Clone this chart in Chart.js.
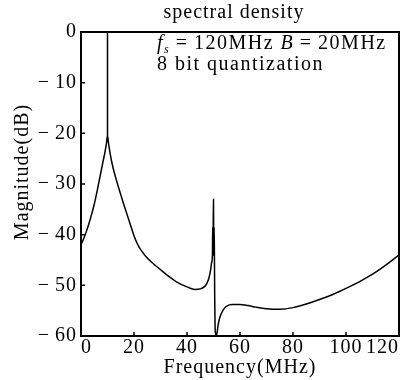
<!DOCTYPE html>
<html>
<head>
<meta charset="utf-8">
<script src="https://cdn.jsdelivr.net/npm/chart.js@4"></script>
<style>
  html, body { margin: 0; padding: 0; background: #fff; }
</style>
</head>
<body>
<canvas id="chart" width="409" height="380"></canvas>
<script>
// Values
const freqMHz = [
    0, 1, 2, 3, 4, 5, 6, 7, 8, 9, 9.6, 10,
    10, 10,
    10.4, 11, 12, 13, 14, 15, 16, 17, 18, 20, 21, 22, 23, 24, 25, 27, 30, 33, 36, 40, 43, 45,
    46.5, 47.5, 48.3, 48.9, 49.3, 49.6,
    49.7, 49.8, 49.9, 50, 50.05, 50.15, 50.25, 50.35,
    50.45, 50.6, 50.9, 51.3, 51.7, 52.3, 53, 54, 55, 57, 60, 63, 66, 70, 75,
    80, 85, 90, 95, 100, 105, 110, 115, 120
]
const magnitudeDb = [
    -42, -40.8, -39.4, -37.8, -36, -34, -31.6, -29, -26.4, -23.8, -22, -20.5,
    0, -20.5,
    -22, -24, -26.6, -28.6, -30.4, -32.1, -33.8, -35.4, -37, -40.2, -41.5, -42.5, -43.3, -44, -44.6, -45.6, -46.9, -48.2, -49.3, -50.3, -50.8, -50.7,
    -50.3, -49.6, -48.5, -47, -45.5, -44,
    -38.5, -44, -38, -33, -38, -44, -38.5, -44,
    -52, -58.5, -59.8, -59.5, -58, -56.5, -55.5, -54.6, -54.1, -53.8, -53.8, -54, -54.3, -54.6, -54.7,
    -54.4, -53.7, -52.8, -51.8, -50.6, -49.3, -47.8, -46, -44
]

// Axis ranges and tick steps
const xRange = [0, 120]
const xStep = 20
const yRange = [-60, 0]
const yStep = 10

const serif = "'Liberation Serif', 'DejaVu Serif', serif"

Chart.defaults.color = "#000"
Chart.defaults.font.family = serif
Chart.defaults.font.size = 20

// Wider letter spacing, like the printed figure
const spacingPlugin = {
    id: "spacing",
    beforeLayout(chart) { chart.ctx.letterSpacing = "1px" },
    beforeDraw(chart) { chart.ctx.letterSpacing = "1px" }
}

// Frame, inward ticks and the note in the corner
const framePlugin = {
    id: "frame",
    afterDraw(chart) {
        const { ctx, chartArea: a, scales } = chart
        ctx.save()
        ctx.strokeStyle = "#000"
        ctx.lineWidth = 2
        ctx.strokeRect(a.left, a.top, a.right - a.left, a.bottom - a.top)

        ctx.lineWidth = 1.5
        ctx.beginPath()
        for (const t of scales.x.ticks) {
            const px = scales.x.getPixelForValue(t.value)
            ctx.moveTo(px, a.bottom)
            ctx.lineTo(px, a.bottom - 4)
        }
        for (const t of scales.y.ticks) {
            const py = scales.y.getPixelForValue(t.value)
            ctx.moveTo(a.left, py)
            ctx.lineTo(a.left + 4, py)
        }
        ctx.stroke()

        // Note text, drawn piece by piece
        ctx.fillStyle = "#000"
        ctx.textBaseline = "alphabetic"
        ctx.textAlign = "left"
        ctx.letterSpacing = "1.5px"
        const pieces = [
            ["f", "italic 20px", 0],
            ["s", "italic 12px", 4],
            ["\u2009=\u2009120MHz ", "20px", 0],
            ["B", "italic 20px", 0],
            ["\u2009=\u200920MHz", "20px", 0]
        ]
        let x = 157
        for (const [text, font, dy] of pieces) {
            ctx.font = font + " " + serif
            ctx.fillText(text, x, 49 + dy)
            x += ctx.measureText(text).width
        }
        ctx.font = "20px " + serif
        ctx.fillText("8 bit quantization", 157, 70)
        ctx.restore()
    }
}

const points = freqMHz.map((f, i) => ({ x: f, y: magnitudeDb[i] }))

new Chart(document.getElementById("chart"), {
    type: "scatter",
    data: {
        datasets: [
            {
                label: "Magnitude",
                data: points,
                showLine: true,
                borderColor: "#000",
                borderWidth: 1.5,
                pointRadius: 0,
                cubicInterpolationMode: "monotone"
            }
        ]
    },
    options: {
        responsive: false,
        animation: false,
        devicePixelRatio: 1,
        layout: { padding: { left: 0, right: 10, top: 0, bottom: 0 } },
        plugins: {
            legend: { display: false },
            tooltip: { enabled: false },
            title: {
                display: true,
                text: "spectral density  ",
                fullSize: false,
                font: { size: 20, weight: "normal" },
                padding: { top: 1, bottom: 7 }
            }
        },
        scales: {
            x: {
                type: "linear",
                min: xRange[0],
                max: xRange[1],
                grid: { display: false, drawTicks: false },
                border: { display: false },
                ticks: { stepSize: xStep, align: "inner", padding: 0, maxRotation: 0 },
                title: { display: true, text: "Frequency(MHz)", padding: { top: 0, bottom: 0 } },
                afterFit(scale) { scale.height = 44 }
            },
            y: {
                min: yRange[0],
                max: yRange[1],
                grid: { display: false, drawTicks: false },
                border: { display: false },
                ticks: {
                    stepSize: yStep,
                    padding: 4,
                    callback: v => v === 0 ? "0" : "\u2212\u2009" + Math.abs(v)
                },
                title: { display: true, text: "    Magnitude(dB)", padding: { top: 11, bottom: 0 } },
                afterFit(scale) { scale.width = 81 }
            }
        }
    },
    plugins: [spacingPlugin, framePlugin]
})
</script>
</body>
</html>
